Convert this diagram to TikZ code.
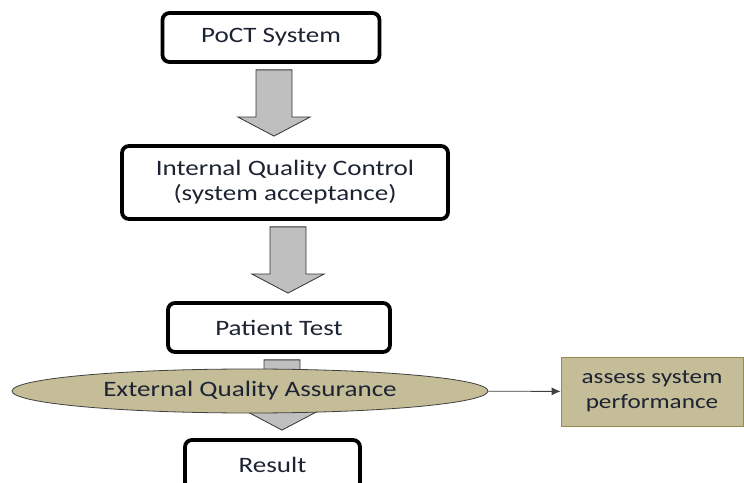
\documentclass[tikz,border=0pt]{standalone}
\usepackage{fontspec}
\setmainfont[FakeStretch=1.23]{Carlito}
\usetikzlibrary{positioning, calc, shapes.geometric, arrows.meta}
\definecolor{khaki}{HTML}{C4BD97}
\definecolor{khakiline}{HTML}{948A54}
\definecolor{inktext}{HTML}{1C2333}

\begin{document}
\begin{tikzpicture}[x=1pt, y=1pt,
  stepbox/.style={draw, line width=3.8pt, rounded corners=7pt, fill=white,
    text=inktext, inner sep=0pt, align=center,
    font=\fontsize{22}{25}\selectfont},
  blockarrow/.style={draw=black!80, line width=0.8pt, fill=black!25, line join=miter},
  eqa/.style={ellipse, draw=black!75, line width=0.8pt, fill=khaki, inner sep=0pt,
    minimum width=476pt, minimum height=44pt, text=inktext,
    font=\fontsize{22}{25}\selectfont},
  outcome/.style={draw=khakiline, line width=0.8pt, fill=khaki, inner sep=0pt,
    minimum width=182pt, minimum height=69pt, align=center, text=inktext,
    font=\fontsize{20.5}{25}\selectfont}]
\useasboundingbox (0,0) rectangle (744,482);
\node[stepbox, minimum width=217pt, minimum height=49pt] (poct) at (271,444.5) {PoCT System};
\node[stepbox, minimum width=326pt, minimum height=73pt] (iqc) at (285,299.5)
  {Internal Quality Control\\(system acceptance)};
\node[stepbox, minimum width=222pt, minimum height=49pt] (patient) at (279,154.5) {Patient Test};
\node[stepbox, minimum width=175pt, minimum height=49pt] (result) at (272.5,17.5) {Result};
% block arrows down the chain
\foreach \a/\b in {poct/iqc, iqc/patient, patient/result}{
  \coordinate (top) at ($(\a.south)+(3,-6)$);
  \coordinate (tip) at ($(top |- \b.north)+(0,8)$);
  \draw[blockarrow] ($(top)+(-18,0)$) -- ($(tip)+(-18,19)$) -- ($(tip)+(-36,19)$)
    -- (tip) -- ($(tip)+(36,19)$) -- ($(tip)+(18,19)$) -- ($(top)+(18,0)$) -- cycle;
}
\node[eqa] (ext) at (250,91) {External Quality Assurance};
\node[outcome] (assess) at (652,90.5) {assess system\\performance};
\draw[-{Latex[length=9pt,width=8pt]}, black!75, line width=0.8pt] (ext) -- (assess);
\end{tikzpicture}
\end{document}
